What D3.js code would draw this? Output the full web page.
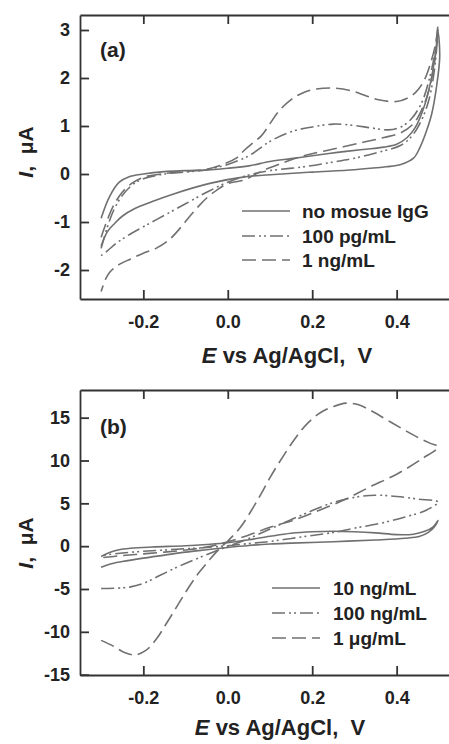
<!DOCTYPE html>
<html>
<head>
<meta charset="utf-8">
<script src="https://cdn.jsdelivr.net/npm/d3@7"></script>
<style>
  body { margin: 0; background: #fff; }
  svg { display: block; font-family: "Liberation Sans", Arial, sans-serif; font-weight: bold; }
</style>
</head>
<body>
<div id="chart"></div>
<script>
// potential ticks shared by both panels
const eTicks = [-0.2, 0.0, 0.2, 0.4];
const aTicks = [-2, -1, 0, 1, 2, 3];
const bTicks = [-15, -10, -5, 0, 5, 10, 15];
const legendA = ['no mosue IgG', '100 pg/mL', '1 ng/mL'];
const legendB = ['10 ng/mL', '100 ng/mL', '1 \u03bcg/mL'];

// [E (V), I (uA)] — forward branch left->right, then reverse branch back to the left
const aNoIgG = [
  [-0.30, -0.92], [-0.28, -0.47], [-0.257, -0.17], [-0.235, -0.06], [-0.2, 0.0], [-0.15, 0.05],
  [-0.1, 0.07], [-0.04, 0.09], [0.0, 0.12], [0.05, 0.17], [0.1, 0.26], [0.15, 0.32], [0.2, 0.38],
  [0.26, 0.45], [0.32, 0.51], [0.37, 0.56], [0.4, 0.62], [0.425, 0.76], [0.445, 0.98], [0.465, 1.4],
  [0.48, 1.9], [0.492, 2.5], [0.498, 2.95],
  [0.502, 2.44], [0.494, 1.79], [0.483, 1.25], [0.47, 0.88], [0.455, 0.55], [0.44, 0.33], [0.41, 0.2],
  [0.375, 0.15], [0.3, 0.09], [0.2, 0.04], [0.11, -0.01], [0.04, -0.06], [-0.04, -0.19], [-0.13, -0.42],
  [-0.18, -0.58], [-0.22, -0.72], [-0.25, -0.88], [-0.268, -1.03], [-0.285, -1.2], [-0.3, -1.5]
];
const a100pg = [
  [-0.3, -1.55], [-0.285, -1.1], [-0.27, -0.75], [-0.25, -0.45], [-0.225, -0.22], [-0.2, -0.1],
  [-0.15, 0.0], [-0.1, 0.04], [-0.05, 0.09], [0.0, 0.2], [0.05, 0.38], [0.1, 0.68], [0.15, 0.88],
  [0.2, 0.98], [0.25, 1.04], [0.3, 1.01], [0.34, 0.96], [0.38, 0.92], [0.41, 0.98], [0.435, 1.15],
  [0.46, 1.5], [0.478, 2.0], [0.49, 2.5], [0.498, 3.05],
  [0.49, 2.2], [0.475, 1.5], [0.455, 1.05], [0.435, 0.78], [0.41, 0.6], [0.36, 0.46], [0.3, 0.33],
  [0.25, 0.25], [0.18, 0.15], [0.1, 0.07], [0.05, -0.02], [0.0, -0.17], [-0.05, -0.38], [-0.1, -0.62],
  [-0.15, -0.86], [-0.2, -1.1], [-0.24, -1.3], [-0.265, -1.45], [-0.285, -1.6], [-0.3, -1.7]
];
const a1ng = [
  [-0.3, -1.32], [-0.285, -0.95], [-0.27, -0.65], [-0.25, -0.38], [-0.225, -0.18], [-0.2, -0.07],
  [-0.15, 0.01], [-0.1, 0.05], [-0.05, 0.1], [-0.015, 0.19], [0.02, 0.33], [0.04, 0.5], [0.06, 0.65],
  [0.08, 0.8], [0.1, 1.05], [0.12, 1.3], [0.15, 1.55], [0.18, 1.7], [0.21, 1.77], [0.25, 1.79],
  [0.29, 1.74], [0.33, 1.62], [0.36, 1.54], [0.4, 1.51], [0.425, 1.58], [0.445, 1.7], [0.465, 1.95],
  [0.48, 2.3], [0.492, 2.7], [0.498, 3.1],
  [0.49, 2.35], [0.475, 1.7], [0.46, 1.35], [0.44, 1.05], [0.41, 0.86], [0.37, 0.76], [0.32, 0.66],
  [0.25, 0.52], [0.18, 0.38], [0.12, 0.2], [0.08, 0.06], [0.04, -0.12], [0.0, -0.2], [-0.025, -0.33],
  [-0.05, -0.5], [-0.07, -0.68], [-0.09, -0.88], [-0.11, -1.1], [-0.14, -1.38], [-0.17, -1.55],
  [-0.2, -1.65], [-0.23, -1.77], [-0.26, -1.9], [-0.28, -2.05], [-0.29, -2.2], [-0.3, -2.45]
];
const b10ng = [
  [-0.3, -1.2], [-0.28, -0.75], [-0.26, -0.45], [-0.23, -0.25], [-0.18, -0.1], [-0.1, 0.05],
  [-0.05, 0.2], [0.0, 0.4], [0.05, 0.75], [0.1, 1.15], [0.15, 1.5], [0.2, 1.68], [0.25, 1.74],
  [0.3, 1.68], [0.35, 1.55], [0.4, 1.35], [0.44, 1.4], [0.465, 1.7], [0.485, 2.2], [0.498, 3.0],
  [0.49, 2.3], [0.475, 1.6], [0.455, 1.15], [0.42, 0.92], [0.35, 0.72], [0.25, 0.52], [0.15, 0.35],
  [0.1, 0.25], [0.05, 0.08], [0.0, -0.15], [-0.05, -0.42], [-0.1, -0.7], [-0.15, -1.05], [-0.2, -1.4],
  [-0.25, -1.8], [-0.28, -2.1], [-0.3, -2.45]
];
const b100ng = [
  [-0.3, -4.95], [-0.26, -4.9], [-0.23, -4.75], [-0.2, -4.35], [-0.16, -3.4], [-0.12, -2.45],
  [-0.08, -1.6], [-0.04, -0.8], [0.0, -0.05], [0.05, 0.9], [0.1, 2.0], [0.15, 3.1], [0.2, 4.15],
  [0.25, 5.1], [0.3, 5.7], [0.35, 5.95], [0.4, 5.8], [0.45, 5.5], [0.498, 5.15],
  [0.47, 4.2], [0.42, 3.4], [0.36, 2.65], [0.3, 2.1], [0.25, 1.6], [0.2, 1.25], [0.15, 0.9],
  [0.1, 0.55], [0.05, 0.3], [0.0, 0.05], [-0.05, -0.15], [-0.1, -0.3], [-0.15, -0.45], [-0.2, -0.6],
  [-0.25, -0.8], [-0.3, -1.1]
];
const b1ug = [
  [-0.3, -11.0], [-0.27, -11.7], [-0.245, -12.4], [-0.22, -12.7], [-0.195, -12.2], [-0.17, -10.9],
  [-0.145, -9.0], [-0.12, -7.0], [-0.095, -5.0], [-0.07, -3.2], [-0.045, -1.7], [-0.02, -0.3],
  [0.0, 0.6], [0.03, 2.2], [0.06, 4.5], [0.08, 6.2], [0.1, 8.0], [0.13, 10.4], [0.16, 12.6],
  [0.19, 14.4], [0.22, 15.6], [0.25, 16.3], [0.28, 16.7], [0.31, 16.5], [0.34, 15.8], [0.375, 14.8],
  [0.41, 13.8], [0.45, 12.7], [0.48, 12.0], [0.498, 11.6],
  [0.46, 10.2], [0.4, 8.4], [0.336, 6.9], [0.28, 5.5], [0.217, 4.2], [0.16, 3.1], [0.1, 2.2],
  [0.05, 1.3], [0.0, 0.5], [-0.05, -0.1], [-0.1, -0.45], [-0.15, -0.7], [-0.2, -0.9], [-0.25, -1.1],
  [-0.3, -1.35]
];

const width = 449, height = 744;
const curveColor = '#707070';
const axisColor = '#333';
const dashes = [null, '13,4,2,3,2,4', '14,6'];

const svg = d3.select('#chart').append('svg')
  .attr('width', width)
  .attr('height', height);

const x = d3.scaleLinear().domain([-0.35, 0.524]).range([80, 449]);

const panels = [
  {
    top: 15, bottom: 299, yDomain: [-2.604, 3.3125], yTicks: aTicks,
    series: [aNoIgG, a100pg, a1ng], names: legendA, label: '(a)', labelY: 57,
    legendX: [242, 290], legendTextX: 302, legendRows: [211, 236, 260],
    yTitleY: 152, xTitleX: 287, xTitleY: 363
  },
  {
    top: 390, bottom: 675, yDomain: [-15.04, 18.23], yTicks: bTicks,
    series: [b10ng, b100ng, b1ug], names: legendB, label: '(b)', labelY: 434,
    legendX: [272, 320], legendTextX: 333, legendRows: [588, 613, 638],
    yTitleY: 543, xTitleX: 280, xTitleY: 735
  }
];

panels.forEach(drawPanel);

function drawPanel(p) {
  const y = d3.scaleLinear().domain(p.yDomain).range([p.bottom, p.top]);
  const g = svg.append('g');

  const bottomAxis = g.append('g')
    .attr('transform', `translate(0,${p.bottom})`)
    .call(d3.axisBottom(x).tickValues(eTicks).tickSize(-9).tickSizeOuter(0).tickPadding(16)
      .tickFormat(d => d.toFixed(1)));
  g.append('g')
    .attr('transform', `translate(0,${p.top})`)
    .call(d3.axisTop(x).tickValues(eTicks).tickSize(-9).tickSizeOuter(0).tickFormat(''));
  g.append('g')
    .attr('transform', 'translate(80,0)')
    .call(d3.axisLeft(y).tickValues(p.yTicks).tickSize(-9).tickSizeOuter(0).tickPadding(10)
      .tickFormat(d => String(d)));

  g.selectAll('.domain, .tick line')
    .attr('stroke', axisColor)
    .attr('stroke-width', 1.8);
  g.selectAll('.tick text')
    .attr('font-family', '"Liberation Sans", Arial, sans-serif')
    .attr('font-weight', 'bold')
    .attr('font-size', 18)
    .attr('fill', '#222');

  const line = d3.line()
    .x(d => x(d[0]))
    .y(d => y(d[1]))
    .curve(d3.curveCatmullRom.alpha(0.5));

  g.selectAll('path.cv')
    .data(p.series)
    .join('path')
    .attr('class', 'cv')
    .attr('d', line)
    .attr('fill', 'none')
    .attr('stroke', curveColor)
    .attr('stroke-width', 1.6)
    .attr('stroke-dasharray', (d, i) => dashes[i]);

  // legend
  p.names.forEach((name, i) => {
    g.append('line')
      .attr('x1', p.legendX[0]).attr('x2', p.legendX[1])
      .attr('y1', p.legendRows[i]).attr('y2', p.legendRows[i])
      .attr('stroke', curveColor)
      .attr('stroke-width', 1.6)
      .attr('stroke-dasharray', dashes[i]);
    g.append('text')
      .attr('x', p.legendTextX)
      .attr('y', p.legendRows[i] + 7)
      .attr('font-size', 19)
      .attr('fill', '#222')
      .text(name);
  });

  g.append('text')
    .attr('x', 100)
    .attr('y', p.labelY)
    .attr('font-size', 21)
    .attr('fill', '#222')
    .text(p.label);

  const yTitle = g.append('text')
    .attr('transform', `translate(33,${p.yTitleY}) rotate(-90)`)
    .attr('text-anchor', 'middle')
    .attr('font-size', 21)
    .attr('fill', '#222')
    .style('white-space', 'pre');
  yTitle.append('tspan').attr('font-style', 'italic').text('I');
  yTitle.append('tspan').text(',  \u03bcA');

  const xTitle = g.append('text')
    .attr('x', p.xTitleX)
    .attr('y', p.xTitleY)
    .attr('text-anchor', 'middle')
    .attr('font-size', 22)
    .attr('fill', '#222')
    .style('white-space', 'pre');
  xTitle.append('tspan').attr('font-style', 'italic').text('E');
  xTitle.append('tspan').text(' vs Ag/AgCl,  V');
}
</script>
</body>
</html>
